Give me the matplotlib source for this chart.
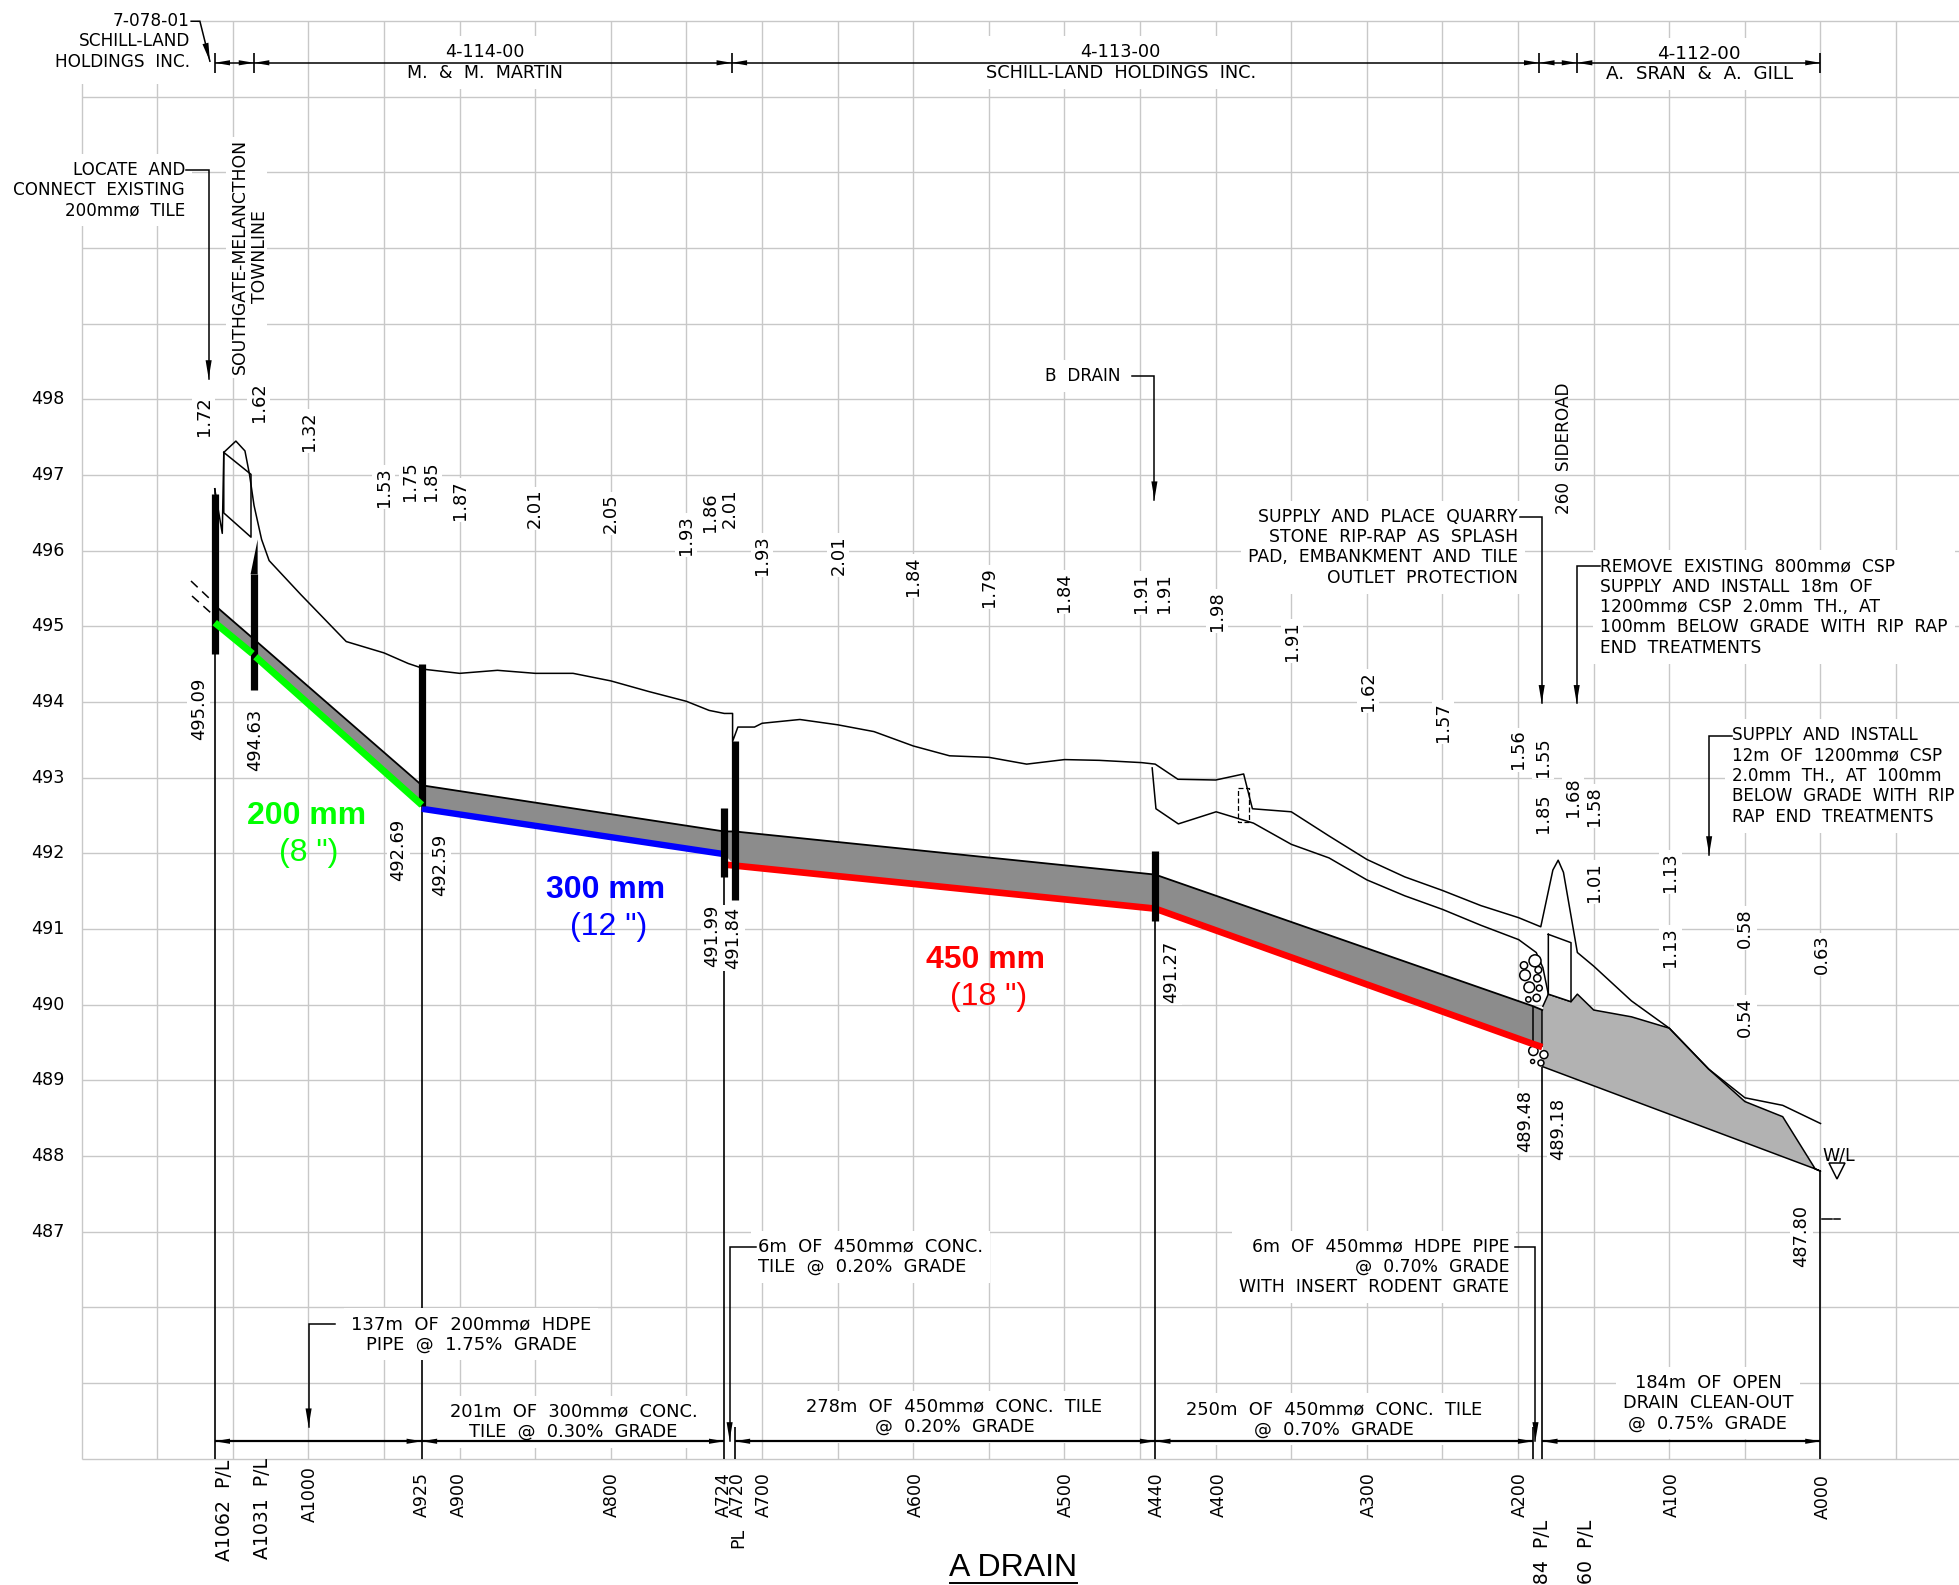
import matplotlib
matplotlib.use("Agg")
import matplotlib.pyplot as plt
from matplotlib.patches import Rectangle
from matplotlib.transforms import Affine2D

# ---------- data: profile (chainage m, elevation m) ----------
grid_chainage = list(range(1150, -51, -50))
grid_elev = list(range(484, 504))
elev_ticks = [498, 497, 496, 495, 494, 493, 492, 491, 490, 489, 488, 487]

ground_ch = [1062, 1057, 1056, 1048, 1042, 1039, 1036, 1031, 1026, 1005, 975, 950, 934, 922, 900, 875, 850, 825,
             800, 775, 750, 735, 725, 719.5, 719.5, 716, 705, 700, 675, 650, 626, 600, 576, 550, 525, 500, 477,
             449, 440, 425, 400, 381.5, 375.7, 350, 325, 300, 275, 250, 224.6, 199.6, 185, 177, 173.5, 170, 160.8,
             150, 125, 100, 74, 50, 25, 0]
ground_el = [496.82, 496.23, 497.30, 497.45, 497.32, 497.01, 496.60, 496.15, 495.87, 495.42, 494.80, 494.65, 494.51,
             494.43, 494.38, 494.42, 494.38, 494.38, 494.28, 494.14, 494.01, 493.89, 493.85, 493.85, 493.48, 493.67,
             493.67, 493.72, 493.77, 493.70, 493.61, 493.42, 493.29, 493.27, 493.18, 493.24, 493.23,
             493.20, 493.18, 492.98, 492.97, 493.05, 492.59, 492.55, 492.23, 491.92, 491.69, 491.51, 491.31, 491.15,
             491.03, 491.78, 491.91, 491.75, 490.69, 490.51, 490.05, 489.69, 489.15, 488.77, 488.67, 488.43]
lower_ch = [442, 439.5, 424.7, 399.7, 375, 350, 325, 300, 275, 250, 224.6, 199.6, 188, 183.6, 180]
lower_el = [493.13, 492.59, 492.39, 492.55, 492.40, 492.12, 491.94, 491.65, 491.44, 491.26, 491.05, 490.86, 490.69,
            490.49, 490.14]
culvert_up_ch = [1056, 1038, 1038, 1056, 1056]
culvert_up_el = [497.30, 497.01, 496.18, 496.50, 497.30]
culvert_dn_ch = [180, 165, 165, 180, 180]
culvert_dn_el = [490.93, 490.82, 490.04, 490.14, 490.93]
dash_box_ch = [385, 378, 378, 385, 385]
dash_box_el = [492.87, 492.87, 492.41, 492.41, 492.87]

pipe_ch = [1062, 1036, 925, 925, 725, 718, 440, 190, 184]
pipe_top = [495.28, 494.83, 492.90, 492.90, 492.29, 492.29, 491.72, 489.98, 489.93]
pipe_inv = [495.05, 494.62, 492.62, 492.59, 491.99, 491.84, 491.27, 489.48, 489.44]
green_up_ch, green_up_el = [1062, 1037], [495.05, 494.64]
green_dn_ch, green_dn_el = [1035, 925], [494.60, 492.64]
blue_ch, blue_el = [925, 725], [492.59, 491.99]
red_ch, red_el = [723.5, 440, 190, 184], [491.85, 491.27, 489.48, 489.44]

ditch_ch = [183.6, 180, 165, 160.8, 150, 125, 100, 74, 50, 25, 3.5, 0, 3.5, 183.6]
ditch_el = [489.98, 490.14, 490.04, 490.14, 489.93, 489.84, 489.69, 489.15, 488.72, 488.52, 487.83, 487.80, 487.83, 489.18]

rock_ch = [188.8, 196.1, 186.6, 195.4, 187.3, 192.6, 186, 193.2, 187.7, 189.9, 182.9, 190.4, 184.9]
rock_el = [490.58, 490.52, 490.46, 490.39, 490.35, 490.23, 490.22, 490.07, 490.09, 489.39, 489.34, 489.25, 489.23]

bar_ch = [1062, 1036, 925, 718, 725, 440]
bar_lo = [494.63, 494.16, 492.63, 491.38, 491.69, 491.11]
bar_hi = [496.75, 495.69, 494.50, 493.49, 492.60, 492.03]
drop_ch = [1062, 925, 725, 718, 440, 190, 184, 0]
drop_hi = [494.63, 492.63, 491.69, 484.42, 491.11, 484.42, 489.18, 487.80]

top_dim_ch = [1062, 1036, 720, 186, 161, 0]
low_dim_ch = [1062, 925, 725, 718, 440, 190, 184, 0]

depth_vals = ["1.72", "1.62", "1.32", "1.53", "1.75", "1.85", "1.87", "2.01", "2.05", "1.93", "1.86", "2.01", "1.93",
              "2.01", "1.84", "1.79", "1.84", "1.91", "1.91", "1.98", "1.91", "1.62", "1.57", "1.56", "1.55", "1.85",
              "1.68", "1.58", "1.01", "1.13", "1.13", "0.58", "0.54", "0.63"]
invert_vals = ["495.09", "494.63", "492.69", "492.59", "491.99", "491.84", "491.27", "489.48", "489.18", "487.80"]
station_vals = ["A1062  P/L", "A1031  P/L", "A1000", "A925", "A900", "A800", "A724", "A720", "PL", "A700", "A600",
                "A500", "A440", "A400", "A300", "A200", "A184  P/L", "A160  P/L", "A100", "A000"]

# ---------- positions (reference pixels) ----------
depth_x = [163, 207, 247, 307, 328, 345, 368, 428, 489, 549, 568, 584, 610, 671, 731, 792, 852, 913, 932, 974, 1034,
           1095, 1155, 1215, 1235, 1235, 1259, 1276, 1276, 1337, 1337, 1397, 1397, 1458]
depth_y = [333, 322, 345, 390, 385, 385, 400, 407, 411, 428, 410, 407, 444, 444, 461, 470, 474, 475, 475, 489, 513,
           553, 578, 600, 606, 651, 638, 645, 706, 698, 758, 743, 814, 764]
invert_x = [159, 204, 319, 352, 570, 587, 937, 1221, 1247, 1442]
invert_y = [567, 592, 680, 692, 749, 751, 778, 897, 904, 989]
station_x = [224, 262, 310, 422, 459, 612, 724, 738, 738, 764, 916, 1066, 1157, 1219, 1369, 1520, 1542, 1586, 1672, 1823]
station_top = [1460, 1458, 1466, 1472, 1472, 1472, 1472, 1472, 1528, 1472, 1472, 1472, 1472, 1472, 1472, 1472, 1520,
               1520, 1472, 1474]
rock_size_px = [12, 7.3, 6.7, 10.7, 7.3, 10.7, 6, 5.3, 7.3, 9.3, 8, 4, 6]

W, H = 1959, 1585
plt.rcParams['font.family'] = ['DejaVu Sans']
fig = plt.figure(figsize=(W / 100, H / 100), dpi=100)
ax = fig.add_axes([0, 0, 1, 1])
ax.set_xlim(1204.0, -91.6)
ax.set_ylim(482.33, 503.28)
ax.axis('off')

S = W / 1568
T = Affine2D().scale(S, -S).translate(0, H)   # reference-view pixels to display
FX = Affine2D().scale(1, -1).translate(0, H)  # full pixels to display
GRID = '#c8c8c8'
FS = 12.4

# grid
ax.hlines(grid_elev, 1150, -91.6, color=GRID, lw=1.0, zorder=1)
ax.vlines(grid_chainage, 484, 503, color=GRID, lw=1.0, zorder=1)

# rectangular text-block masks of the drawing
ax.add_patch(Rectangle((0, 0), 196, 84, transform=FX, fc='white', ec='none', zorder=2))
ax.add_patch(Rectangle((226, 137), 41, 241, transform=FX, fc='white', ec='none', zorder=2))

# thin station drops
ax.vlines(drop_ch, 484, drop_hi, color='k', lw=1.2, zorder=1.5)


def note(x, ys, lines, ha, fs=FS):
    y = sum(ys) / len(ys)
    ax.text(x, y, "\n".join(lines), transform=T, ha=ha, va='center', ma=ha, fontsize=fs, linespacing=1.17,
            color='k', zorder=3, bbox=dict(fc='white', ec='none', pad=5))


def head(tip, tail, coords, hl=1.0, hw=0.17):
    ax.annotate('', xy=tip, xytext=tail, xycoords=coords, textcoords=coords, zorder=4.5,
                arrowprops=dict(arrowstyle=f'-|>,head_length={hl},head_width={hw}', mutation_scale=11,
                                fc='k', ec='none', lw=0, shrinkA=0, shrinkB=0))


def arrow_leader(px, py):
    ax.plot(px, py, color='k', lw=1.1, transform=T, zorder=4, solid_joinstyle='miter')
    head((px[-1], py[-1]), (px[-2], py[-2]), T, hl=1.2, hw=0.2)


# pipe band and ditch
ax.fill(pipe_ch + pipe_ch[::-1], pipe_top + pipe_inv[::-1], color='#8c8c8c', lw=0, zorder=3.5)
ax.fill(ditch_ch, ditch_el, color='#b2b2b2', lw=0, zorder=3.5)
ax.plot(ditch_ch, ditch_el, color='k', lw=1.1, zorder=3.6)
ax.plot(pipe_ch, pipe_top, color='k', lw=1.3, zorder=3.6)
ax.vlines([190, 184], [489.48, 489.44], [489.98, 489.93], color='k', lw=1.1, zorder=3.6)

ax.plot(ground_ch, ground_el, color='k', lw=1.1, zorder=3.6)
ax.plot(lower_ch, lower_el, color='k', lw=1.1, zorder=3.6)
ax.plot(culvert_up_ch, culvert_up_el, color='k', lw=1.1, zorder=3.6)
ax.fill(culvert_dn_ch, culvert_dn_el, color='white', lw=0, zorder=3.65)
ax.plot(culvert_dn_ch, culvert_dn_el, color='k', lw=1.1, zorder=3.7)
ax.plot(dash_box_ch, dash_box_el, color='k', lw=0.9, ls=(0, (4, 2)), zorder=3.6)

ax.scatter(rock_ch, rock_el, s=[(d * 0.72) ** 2 for d in rock_size_px], facecolor='white', edgecolor='k', lw=1.1,
           zorder=3.7)

ax.plot(blue_ch, blue_el, color='#0000ff', lw=4.6, solid_capstyle='butt', zorder=5)
ax.plot(red_ch, red_el, color='#ff0000', lw=4.8, solid_capstyle='butt', zorder=5)

# heavy bars
ax.vlines(bar_ch, bar_lo, bar_hi, color='k', lw=5.2, zorder=6)
ax.fill([1038.3, 1033.6, 1033.6], [495.69, 496.15, 495.69], color='k', lw=0, zorder=6)
ax.plot([1062, 1062], [496.75, 496.82], color='k', lw=1.1, zorder=6)

ax.plot(green_up_ch, green_up_el, color='#00ff00', lw=5.0, solid_capstyle='butt', zorder=7)
ax.plot(green_dn_ch, green_dn_el, color='#00ff00', lw=5.0, solid_capstyle='butt', zorder=7)

# break marks
ax.plot([191, 210], [581, 599], color='k', lw=1.1, ls=(0, (6, 4)), transform=FX, zorder=4)
ax.plot([192, 211], [596, 613], color='k', lw=1.1, ls=(0, (6, 4)), transform=FX, zorder=4)

# dimension lines
for ch_list, y, lw in [(top_dim_ch, 502.45, 1.1), (low_dim_ch, 484.23, 1.6)]:
    for a, b in zip(ch_list[:-1], ch_list[1:]):
        if abs(a - b) > 10:
            ax.plot([a, b], [y, y], color='k', lw=lw, zorder=4, solid_capstyle='butt')
            head((a, y), (b, y), 'data')
            head((b, y), (a, y), 'data')
ax.vlines(top_dim_ch, 502.32, 502.58, color='k', lw=1.2, zorder=4)

# y labels
for e in elev_ticks:
    ax.text(48, 399.5 + (498 - e) * 75.65, str(e), transform=FX, ha='center', va='center', fontsize=12.6, zorder=4,
            bbox=dict(fc='white', ec='none', pad=1))

# rotated tags
for v, x, y in zip(depth_vals, depth_x, depth_y):
    ax.text(x, y, v, transform=T, rotation=90, ha='center', va='center', fontsize=12.9, zorder=4,
            bbox=dict(fc='white', ec='none', pad=1.5))
for v, x, y in zip(invert_vals, invert_x, invert_y):
    ax.text(x, y, v, transform=T, rotation=90, ha='center', va='center', fontsize=12.9, zorder=4,
            bbox=dict(fc='white', ec='none', pad=1.5))
for v, x, y in zip(station_vals, station_x, station_top):
    ax.text(x, y, v, transform=FX, rotation=90, ha='center', va='top', fontsize=13.6 if 'P/L' in v else 12.5, zorder=4)

# notes
note(152, [17, 33, 49], ["7-078-01", "SCHILL-LAND", "HOLDINGS  INC."], 'right', 12.2)
arrow_leader([153, 160, 168], [17, 17, 49])
note(388, [42, 58], ["4-114-00", "M.  &  M.  MARTIN"], 'center', 12.6)
note(897, [42, 58], ["4-113-00", "SCHILL-LAND  HOLDINGS  INC."], 'center', 12.8)
note(1360, [43, 59], ["4-112-00", "A.  SRAN  &  A.  GILL"], 'center', 13.2)
note(148, [136, 152, 168], ["LOCATE  AND", "CONNECT  EXISTING", "200mmø  TILE"], 'right', 12.1)
arrow_leader([149, 167, 167], [136, 136, 303])
note(867, [301], ["B  DRAIN"], 'center', 12.2)
arrow_leader([906, 924, 924], [301, 301, 400])
note(1215, [414, 430, 446, 462], ["SUPPLY  AND  PLACE  QUARRY", "STONE  RIP-RAP  AS  SPLASH",
                                  "PAD,  EMBANKMENT  AND  TILE", "OUTLET  PROTECTION"], 'right', 12.4)
arrow_leader([1217, 1234, 1234], [414, 414, 563])
note(1281, [453, 470, 486, 502, 518], ["REMOVE  EXISTING  800mmø  CSP", "SUPPLY  AND  INSTALL  18m  OF",
                                       "1200mmø  CSP  2.0mm  TH.,  AT", "100mm  BELOW  GRADE  WITH  RIP  RAP",
                                       "END  TREATMENTS"], 'left', 12.3)
arrow_leader([1281, 1262, 1262], [453, 453, 563])
note(1386, [589, 605, 622, 637, 653], ["SUPPLY  AND  INSTALL", "12m  OF  1200mmø  CSP", "2.0mm  TH.,  AT  100mm",
                                       "BELOW  GRADE  WITH  RIP", "RAP  END  TREATMENTS"], 'left', 12.1)
arrow_leader([1386, 1368, 1368], [589, 589, 684])
note(607, [998, 1014], ["6m  OF  450mmø  CONC.", "TILE  @  0.20%  GRADE"], 'left', 12.9)
arrow_leader([605, 584, 584], [998, 998, 1153])
note(1208, [998, 1014, 1030], ["6m  OF  450mmø  HDPE  PIPE", "@  0.70%  GRADE", "WITH  INSERT  RODENT  GRATE"], 'right')
arrow_leader([1213, 1229, 1229], [998, 998, 1153])
note(377, [1060, 1076], ["137m  OF  200mmø  HDPE", "PIPE  @  1.75%  GRADE"], 'center', 13)
arrow_leader([268, 247, 247], [1060, 1060, 1142])
note(459, [1130, 1146], ["201m  OF  300mmø  CONC.", "TILE  @  0.30%  GRADE"], 'center', 12.9)
note(764, [1126, 1142], ["278m  OF  450mmø  CONC.  TILE", "@  0.20%  GRADE"], 'center', 12.9)
note(1068, [1128, 1144], ["250m  OF  450mmø  CONC.  TILE", "@  0.70%  GRADE"], 'center', 12.9)
note(1367, [1107, 1123, 1139], ["184m  OF  OPEN", "DRAIN  CLEAN-OUT", "@  0.75%  GRADE"], 'center', 12.8)

ax.text(192, 205.5, "SOUTHGATE-MELANCTHON", transform=T, rotation=90, ha='center', va='center', fontsize=12.4, zorder=4)
ax.text(208, 205.5, "TOWNLINE", transform=T, rotation=90, ha='center', va='center', fontsize=FS, zorder=4)
ax.text(1252, 359, "260  SIDEROAD", transform=T, rotation=90, ha='center', va='center', fontsize=12.2, zorder=4)

ax.text(1472, 925, "W/L", transform=T, ha='center', va='center', fontsize=12.5, zorder=4)
ax.plot([1470], [937], marker='v', ms=11, mfc='none', mec='k', mew=1.1, transform=T, zorder=4)
ax.plot([1458, 1466], [976, 976], color='k', lw=1.1, transform=T, zorder=4)
ax.plot([1468, 1473], [976, 976], color='k', lw=1.1, transform=T, zorder=4)

# size call-outs
big = ['Liberation Sans', 'DejaVu Sans']
for txt, x, y, col, w in [("200 mm", 245, 653, '#00ff00', 'bold'), ('(8 ")', 247, 683, '#00ff00', 'normal'),
                          ("300 mm", 485, 712, '#0000ff', 'bold'), ('(12 ")', 487, 742, '#0000ff', 'normal'),
                          ("450 mm", 789, 768, '#ff0000', 'bold'), ('(18 ")', 791, 798, '#ff0000', 'normal')]:
    ax.text(x, y, txt, transform=T, ha='center', va='center', color=col, fontweight=w, fontsize=23, family=big, zorder=7)

ax.text(811, 1255, "A DRAIN", transform=T, ha='center', va='center', fontsize=23, family=big, zorder=7)
ax.plot([760, 862], [1267, 1267], color='k', lw=1.4, transform=T, zorder=7)

fig.savefig("out.png", dpi=100)
